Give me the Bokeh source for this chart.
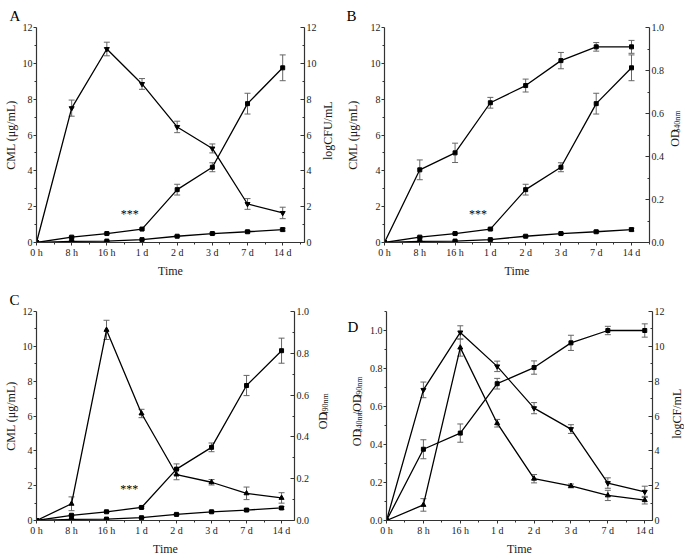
import math
from bokeh.plotting import figure
from bokeh.models import (Range1d, LinearAxis, FixedTicker, Whisker, TeeHead,
                          ColumnDataSource, Label, PrintfTickFormatter)
from bokeh.layouts import column, row
from bokeh.embed import file_html
from bokeh.resources import INLINE

# ---------------- data ----------------
times = ["0 h", "8 h", "16 h", "1 d", "2 d", "3 d", "7 d", "14 d"]

cml = [0, 0.30, 0.50, 0.75, 2.95, 4.20, 7.75, 9.75]
cml_err = [0, 0.04, 0.04, 0.05, 0.30, 0.25, 0.58, 0.72]

low = [0, 0.06, 0.08, 0.16, 0.35, 0.50, 0.60, 0.72]
low_err = [0, 0.02, 0.02, 0.03, 0.04, 0.05, 0.06, 0.08]

log_cfu = [0, 7.50, 10.80, 8.85, 6.45, 5.25, 2.15, 1.65]
log_cfu_err = [0, 0.45, 0.38, 0.30, 0.32, 0.25, 0.30, 0.32]

od540 = [0, 0.338, 0.417, 0.650, 0.730, 0.846, 0.910, 0.910]
od540_err = [0, 0.046, 0.045, 0.025, 0.030, 0.038, 0.020, 0.030]

od490 = [0, 0.080, 0.912, 0.512, 0.220, 0.183, 0.130, 0.108]
od490_err = [0, 0.033, 0.046, 0.020, 0.025, 0.013, 0.030, 0.025]

od540_d = [0, 0.375, 0.460, 0.720, 0.805, 0.935, 1.000, 1.000]
od540_d_err = [0, 0.050, 0.048, 0.028, 0.035, 0.040, 0.022, 0.035]

od490_d = [0, 0.082, 0.910, 0.512, 0.220, 0.182, 0.132, 0.107]
od490_d_err = [0, 0.033, 0.045, 0.020, 0.022, 0.010, 0.027, 0.020]

star_text = "***"
cml_title = "CML (\u03bcg/mL)"
od540_parts = [("OD", False), ("540nm", True)]
od490_parts = [("OD", False), ("490nm", True)]
od_ratio_parts = [("OD", False), ("540nm", True), ("/OD", False), ("490nm", True)]

# ---------------- style ----------------
FONT = "Liberation Serif"
AX = "#333333"
ERR = "#666666"
TXT = "#1a1a1a"
BIG, SMALL = 12, 8
idx = list(range(len(times)))

EM = {"O": .722, "D": .722, "/": .278, "n": .5, "m": .778}
for _d in "0123456789":
    EM[_d] = .5


def text_w(s, size):
    return sum(EM.get(c, .5) for c in s) * size + 1.0


def style_axis(ax, side):
    ax.axis_line_color = AX
    ax.axis_line_width = 1.2
    ax.major_tick_line_color = AX
    ax.minor_tick_line_color = AX
    ax.major_label_text_font = FONT
    ax.major_label_text_font_size = "10px"
    ax.major_label_text_color = TXT
    ax.axis_label_text_font = FONT
    ax.axis_label_text_font_style = "normal"
    ax.axis_label_text_font_size = "12px"
    ax.axis_label_text_color = TXT
    if side == "right":
        ax.major_tick_in = 4
        ax.major_tick_out = 0
        ax.minor_tick_in = 2
        ax.minor_tick_out = 0
        ax.major_label_standoff = 2
    else:
        ax.major_tick_in = 0
        ax.major_tick_out = 3
        ax.minor_tick_in = 0
        ax.minor_tick_out = 2
        ax.major_label_standoff = 1
        ax.axis_label_standoff = 2


def make_fig(size, borders, xmax, left_max, right_max, left_fmt, right_fmt,
             left_ticks, left_minor, right_ticks, right_minor, left_title,
             left_title_standoff=2):
    w, h = size
    bl, br, bt, bb = borders
    p = figure(width=w, height=h,
               min_border_left=bl, min_border_right=br,
               min_border_top=bt, min_border_bottom=bb,
               x_range=Range1d(0, xmax), y_range=Range1d(0, left_max),
               output_backend="svg", toolbar_location=None)
    p.extra_y_ranges = {"r": Range1d(0, right_max)}
    p.outline_line_color = None
    p.xgrid.visible = False
    p.ygrid.visible = False

    xa = p.xaxis[0]
    xa.ticker = FixedTicker(ticks=idx, minor_ticks=[i + 0.5 for i in idx])
    xa.major_label_overrides = {i: t for i, t in zip(idx, times)}
    xa.axis_label = "Time"
    style_axis(xa, "below")
    xa.axis_label_standoff = 3

    ya = p.yaxis[0]
    ya.ticker = FixedTicker(ticks=left_ticks, minor_ticks=left_minor)
    ya.formatter = PrintfTickFormatter(format=left_fmt)
    if left_title:
        ya.axis_label = left_title
    style_axis(ya, "left")
    ya.axis_label_standoff = left_title_standoff

    ra = LinearAxis(y_range_name="r")
    ra.ticker = FixedTicker(ticks=right_ticks, minor_ticks=right_minor)
    ra.formatter = PrintfTickFormatter(format=right_fmt)
    style_axis(ra, "right")
    p.add_layout(ra, "right")
    return p


def set_letter(p, letter, offset, standoff):
    p.title.text = letter
    p.title.align = "left"
    p.title.offset = offset
    p.title.standoff = standoff
    p.title.text_font = FONT
    p.title.text_font_style = "normal"
    p.title.text_font_size = "15px"
    p.title.text_color = "black"


def side_fig(w, h):
    f = figure(width=w, height=h, x_range=Range1d(0, w), y_range=Range1d(0, h),
               x_axis_type=None, y_axis_type=None, min_border=0,
               min_border_left=0, min_border_right=0, min_border_top=0,
               min_border_bottom=0, output_backend="svg", toolbar_location=None)
    f.outline_line_color = None
    return f


def plain_vtext(f, xc, yc, txt):
    f.add_layout(Label(x=xc, y=yc, text=txt, angle=math.pi / 2,
                       text_font=FONT, text_font_size=f"{BIG}px", text_color=TXT,
                       text_align="center", text_baseline="middle"))


def sub_vtext(f, xc, yc, parts):
    sizes = [SMALL if sub else BIG for _, sub in parts]
    total = sum(text_w(t, s) for (t, _), s in zip(parts, sizes))
    pos = yc - total / 2
    for (t, sub), s in zip(parts, sizes):
        f.add_layout(Label(x=xc + (3 if sub else 0), y=pos, text=t,
                           angle=math.pi / 2, text_font=FONT, text_font_size=f"{s}px",
                           text_color=TXT, text_align="left", text_baseline="middle"))
        pos += text_w(t, s)


def series(p, ys, errs, marker, size, rng="default"):
    kw = {} if rng == "default" else {"y_range_name": rng}
    p.line(idx, ys, line_color="black", line_width=1.3, **kw)
    xs = [i for i, e in zip(idx, errs) if e > 0]
    up = [y + e for y, e in zip(ys, errs) if e > 0]
    lo = [y - e for y, e in zip(ys, errs) if e > 0]
    src = ColumnDataSource(dict(x=xs, upper=up, lower=lo))
    w = Whisker(base="x", upper="upper", lower="lower", source=src,
                line_color=ERR, line_width=1,
                upper_head=TeeHead(size=6, line_color=ERR, line_width=1),
                lower_head=TeeHead(size=6, line_color=ERR, line_width=1), **kw)
    p.add_layout(w)
    p.scatter(idx, ys, marker=marker, size=size, color="black", **kw)


def stars(p, y):
    p.add_layout(Label(x=2.65, y=y, text=star_text, text_font=FONT,
                       text_font_size="12px", text_color="black",
                       text_align="center", text_baseline="middle"))


t12 = [0, 2, 4, 6, 8, 10, 12]
m12 = [1, 3, 5, 7, 9, 11]
t10 = [0, 0.2, 0.4, 0.6, 0.8, 1.0]
m10 = [0.1, 0.3, 0.5, 0.7, 0.9]
m11 = [0.1, 0.3, 0.5, 0.7, 0.9, 1.1]

H1, T1, F1 = 280, 27, 215     # top row: height, top border, frame height
H2, T2, F2 = 278, 31, 210     # bottom row

# ---------------- panel A ----------------
pa = make_fig((320, H1), (32, 16, T1, H1 - T1 - F1), 7.62, 12, 12, "%d", "%d",
              t12, m12, t12, m12, cml_title)
set_letter(pa, "A", -27, 7)
series(pa, low, low_err, "square", 4)
series(pa, cml, cml_err, "square", 4)
series(pa, log_cfu, log_cfu_err, "inverted_triangle", 5, "r")
stars(pa, 1.6)
ra_fig = side_fig(22, H1)
plain_vtext(ra_fig, 7, H1 - T1 - F1 / 2, "logCFU/mL")

# ---------------- panel B ----------------
pb = make_fig((325, H1), (42, 17, T1, H1 - T1 - F1), 7.51, 12, 1.0, "%d", "%.1f",
              t12, m12, t10, m10, cml_title, 8)
set_letter(pb, "B", -38, 7)
series(pb, low, low_err, "square", 4)
series(pb, cml, cml_err, "square", 4)
series(pb, od540, od540_err, "square", 4, "r")
stars(pb, 1.6)
rb_fig = side_fig(17, H1)
sub_vtext(rb_fig, 7, H1 - T1 - F1 / 2, od540_parts)

# ---------------- panel C ----------------
pc = make_fig((312, H2), (32, 17, T2, H2 - T2 - F2), 7.37, 12, 1.0, "%d", "%.1f",
              t12, m12, t10, m10, cml_title)
set_letter(pc, "C", -27, 8)
series(pc, low, low_err, "square", 4)
series(pc, cml, cml_err, "square", 4)
series(pc, od490, od490_err, "triangle", 5, "r")
stars(pc, 1.8)
rc_fig = side_fig(30, H2)
sub_vtext(rc_fig, 10, H2 - T2 - F2 / 2, od490_parts)

# ---------------- panel D ----------------
pd_ = make_fig((302, H2), (20, 16, T2, H2 - T2 - F2), 7.21, 1.1, 12, "%.1f", "%d",
               t10, m11, t12, m12, None)
series(pd_, od540_d, od540_d_err, "square", 4)
series(pd_, od490_d, od490_d_err, "triangle", 5)
series(pd_, log_cfu, log_cfu_err, "inverted_triangle", 5, "r")
ld_fig = side_fig(24, H2)
sub_vtext(ld_fig, 14, H2 - T2 - F2 / 2, od_ratio_parts)
ld_fig.add_layout(Label(x=5, y=H2 - 21, text="D", text_font=FONT, text_font_size="15px",
                        text_color="black", text_align="left", text_baseline="alphabetic"))
rd_fig = side_fig(16, H2)
plain_vtext(rd_fig, 8, H2 - T2 - F2 / 2, "logCF/mL")

layout = column(row(pa, ra_fig, pb, rb_fig), row(pc, rc_fig, ld_fig, pd_, rd_fig))

open("out.html", "w").write(file_html(layout, INLINE))
